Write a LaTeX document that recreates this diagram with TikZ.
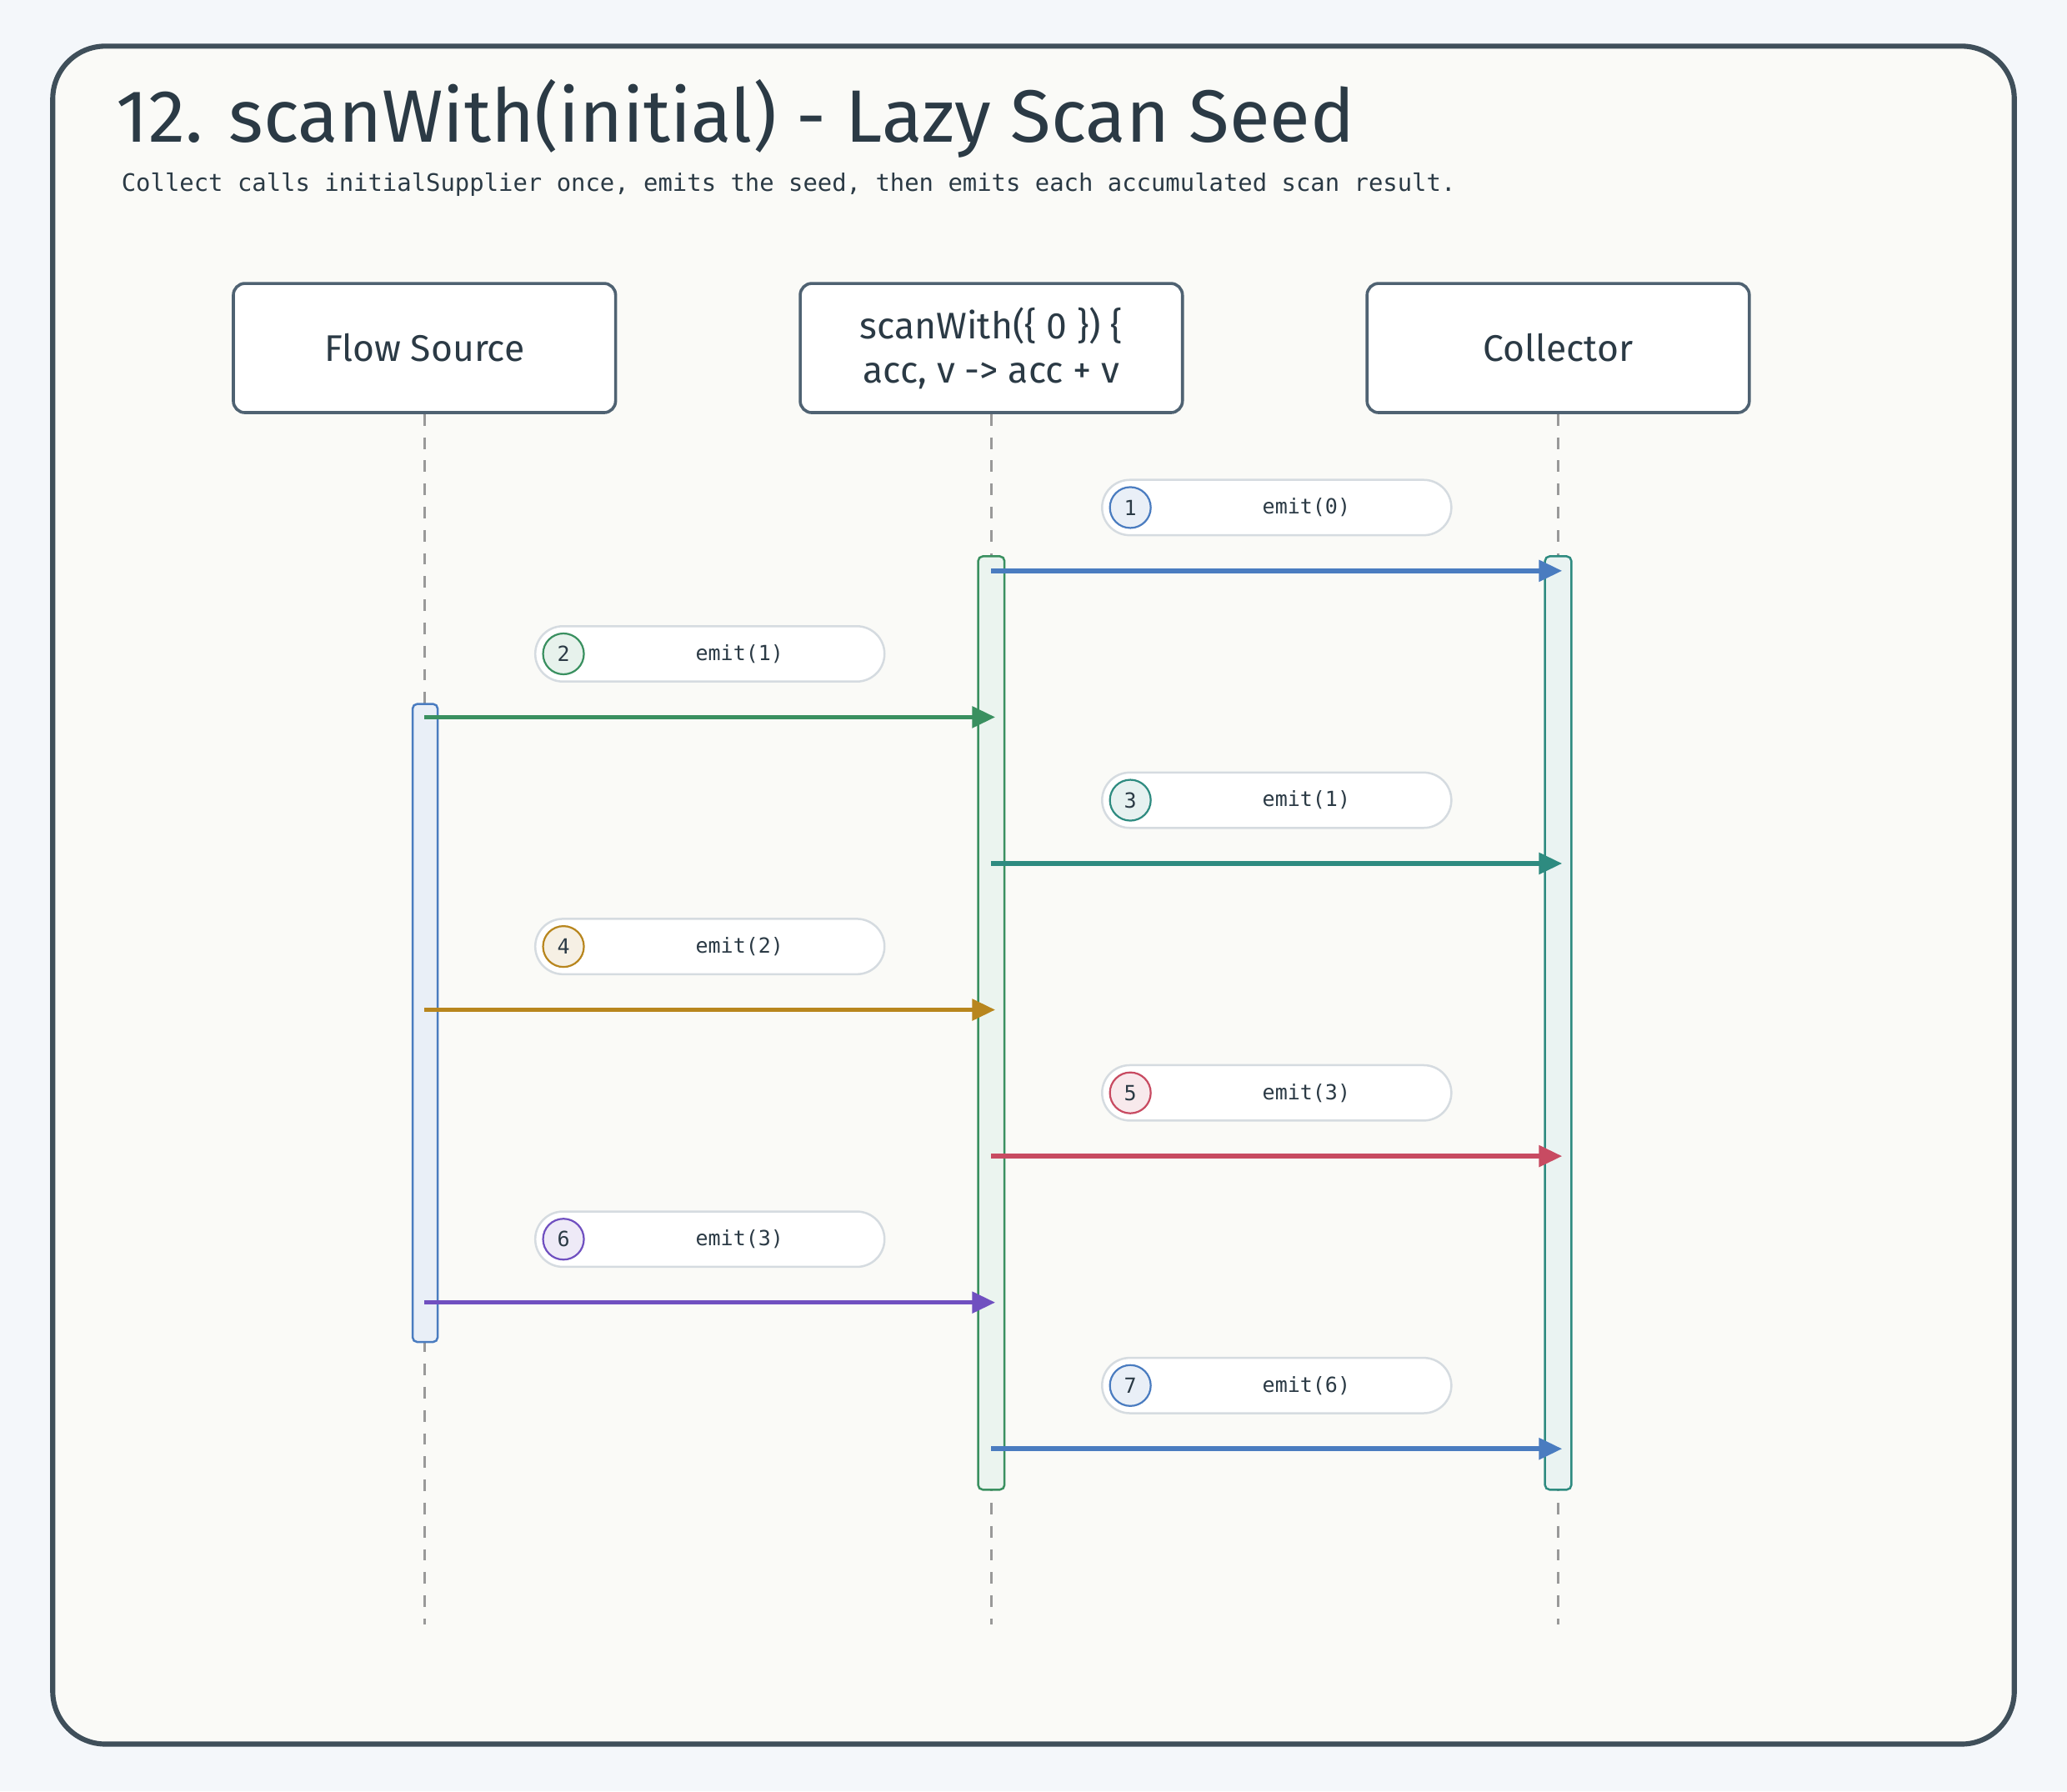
\documentclass[tikz,border=0pt]{standalone}
\usepackage{fontspec}
\setmainfont{Fira Sans}
\newfontfamily\codefont{DejaVu Sans Mono}
\usetikzlibrary{arrows.meta, calc, positioning}
\definecolor{pagebg}{HTML}{F4F7FA}
\definecolor{cardbg}{HTML}{FAFAF7}
\definecolor{ink}{HTML}{2B3A45}
\definecolor{edge}{HTML}{3F4F5A}
\definecolor{boxedge}{HTML}{4F6272}
\definecolor{pilledge}{HTML}{D5DBE0}
\definecolor{cblue}{HTML}{4A7CC0}
\definecolor{cgreen}{HTML}{3A9060}
\definecolor{cteal}{HTML}{2E8B80}
\definecolor{camber}{HTML}{B8861E}
\definecolor{cred}{HTML}{C84B62}
\definecolor{cpurple}{HTML}{7050C0}
\tikzset{
  actor/.style={draw=boxedge, line width=1.3pt, fill=white, rounded corners=5pt,
    minimum width=5.8cm, minimum height=1.96cm, align=center, text=ink, font=\fontsize{16}{19}\selectfont},
  lifeline/.style={draw=gray!80, line width=1pt, dash pattern=on 5pt off 5pt},
  bar/.style={line width=0.9pt, rounded corners=2pt},
  pill/.style={draw=pilledge, line width=0.9pt, fill=white, rounded corners=0.42cm,
    minimum width=5.3cm, minimum height=0.84cm},
  msg/.style={line width=2pt, -{Triangle[length=10pt,width=9pt]}},
}
\begin{document}
\begin{tikzpicture}[x=0.02cm, y=-0.02cm]
  \useasboundingbox (0,0) rectangle (1568,1359);
  \fill[pagebg] (0,0) rectangle (1568,1359);
  \draw[edge, fill=cardbg, line width=2.2pt, rounded corners=0.8cm] (40,35) rectangle (1528,1323);

  % title and subtitle
  \node[anchor=west, text=ink, font=\fontsize{32}{36}\selectfont] (title) at (82,90) {12. scanWith(initial) - Lazy Scan Seed};
  \node[anchor=west, text=ink, font=\codefont\fontsize{10.4}{12}\selectfont] (subtitle) at (86,140)
    {Collect calls initialSupplier once, emits the seed, then emits each accumulated scan result.};

  % actors
  \node[actor] (src) at (322,264) {Flow Source};
  \node[actor] (scan) at (752,264) {scanWith(\{ 0 \}) \{\\acc, v -> acc + v};
  \node[actor] (coll) at (1182,264) {Collector};

  % lifelines
  \foreach \a/\x in {src/322, scan/752, coll/1182}
    \draw[lifeline] (\a.south) -- (\x,1232);

  % activation bars
  \filldraw[bar, draw=cblue, fill=cblue!12] (313,534) rectangle (332,1018);
  \filldraw[bar, draw=cgreen, fill=cgreen!10] (742,422) rectangle (762,1130);
  \filldraw[bar, draw=cteal, fill=cteal!10] (1172,422) rectangle (1192,1130);

  % messages: number / y / from x / to x / colour / label
  \foreach \n/\y/\xa/\xb/\c/\t in {1/433/752/1185/cblue/emit(0), 2/544/322/755/cgreen/emit(1),
      3/655/752/1185/cteal/emit(1), 4/766/322/755/camber/emit(2), 5/877/752/1185/cred/emit(3),
      6/988/322/755/cpurple/emit(3), 7/1099/752/1185/cblue/emit(6)} {
    \coordinate (m\n a) at (\xa,\y);
    \coordinate (m\n b) at (\xb,\y);
    \node[pill] (p\n) at ($(m\n a)!0.5!(m\n b)+(0,-48)$) {};
    \node[circle, draw=\c, fill=\c!12, line width=0.8pt, minimum size=0.62cm, inner sep=0pt,
      text=ink, font=\codefont\fontsize{9}{10}\selectfont, right=0.12cm of p\n.west] (n\n) {\n};
    \node[text=ink, font=\codefont\fontsize{9}{10}\selectfont] at ([xshift=0.45cm]p\n.center) {\t};
    \draw[msg, \c] (m\n a) -- (m\n b);
  }
\end{tikzpicture}
\end{document}
